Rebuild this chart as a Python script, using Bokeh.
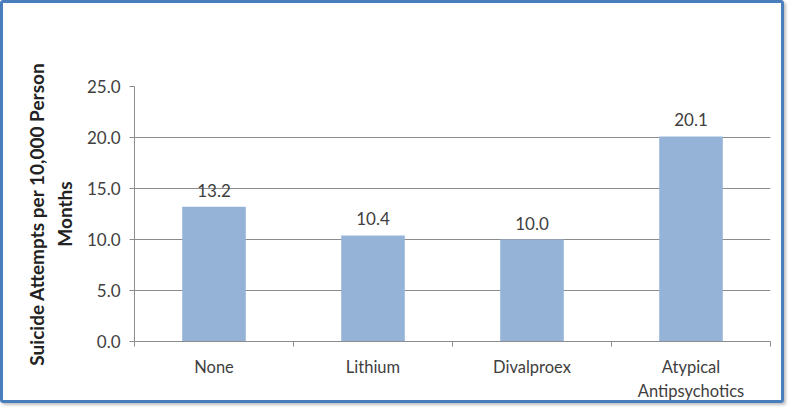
from bokeh.plotting import figure
from bokeh.models import ColumnDataSource, FixedTicker, Range1d, NumeralTickFormatter, LabelSet
from bokeh.core.properties import value
from bokeh.embed import file_html
from bokeh.resources import INLINE

categories = ["None", "Lithium", "Divalproex", "Atypical\nAntipsychotics"]
values = [13.2, 10.4, 10.0, 20.1]
y_ticks = [0, 5, 10, 15, 20, 25]

FONT = "Lato"
FS = "17px"
TXT = "#404040"
GRID = "#8C8C8C"

xs = [i + 0.5 for i in range(len(categories))]
src = ColumnDataSource(dict(x=xs, top=values, lab=[f"{v:.1f}" for v in values]))

p = figure(width=784, height=403, output_backend="svg", toolbar_location=None,
           x_range=Range1d(0, len(categories)), y_range=Range1d(0, 25),
           min_border_left=131, min_border_right=17, min_border_top=83, min_border_bottom=65)
p.styles = {"border": "3px solid #4A7EBB", "border-radius": "3px",
            "box-shadow": "2px 2px 3px rgba(0,0,0,0.25)", "box-sizing": "border-box"}
p.outline_line_color = None
p.background_fill_color = "white"
p.border_fill_color = "white"

p.vbar(x="x", top="top", bottom=0, width=0.4, source=src, fill_color="#95B3D7", line_color=None)

labels = LabelSet(x="x", y="top", text="lab", source=src, text_align="center",
                  text_baseline="bottom", y_offset=10, text_font=value(FONT),
                  text_font_size=FS, text_color=TXT)
p.add_layout(labels)

p.xgrid.visible = False
p.ygrid.ticker = FixedTicker(ticks=y_ticks)
p.ygrid.grid_line_color = GRID
p.ygrid.grid_line_width = 1

xa = p.xaxis[0]
xa.ticker = FixedTicker(ticks=xs, minor_ticks=list(range(len(categories) + 1)))
xa.major_label_overrides = {x: c for x, c in zip(xs, categories)}
xa.major_tick_line_color = None
xa.minor_tick_line_color = GRID
xa.minor_tick_out = 5
xa.minor_tick_in = 0
xa.axis_line_color = GRID
xa.major_label_text_font = FONT
xa.major_label_text_font_size = "16.5px"
xa.major_label_text_color = TXT
xa.major_label_standoff = 9

ya = p.yaxis[0]
ya.ticker = FixedTicker(ticks=y_ticks)
ya.formatter = NumeralTickFormatter(format="0.0")
ya.major_tick_line_color = GRID
ya.major_tick_out = 5
ya.major_tick_in = 0
ya.minor_tick_line_color = None
ya.axis_line_color = GRID
ya.major_label_text_font = FONT
ya.major_label_text_font_size = FS
ya.major_label_text_color = TXT
ya.major_label_standoff = 9
ya.axis_label = "Suicide Attempts per 10,000 Person\nMonths"
ya.axis_label_text_font = FONT
ya.axis_label_text_font_size = "19px"
ya.axis_label_text_font_style = "bold"
ya.axis_label_text_color = "#222222"
ya.axis_label_standoff = 8

open("out.html", "w").write(file_html(p, INLINE))
